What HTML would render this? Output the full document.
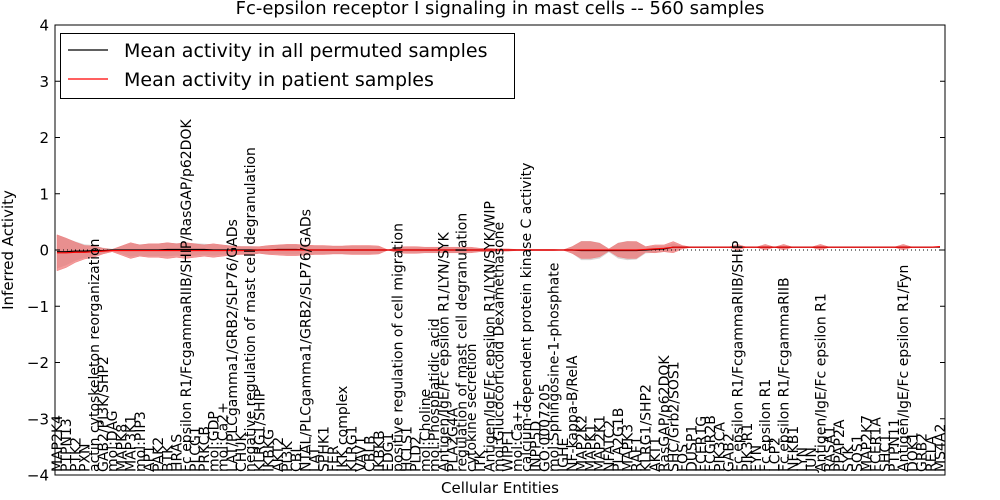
<!DOCTYPE html>
<html><head><meta charset="utf-8"><style>
html,body{margin:0;padding:0;background:#fff;}
svg{display:block;font-family:"DejaVu Sans","Liberation Sans",sans-serif;}
</style></head><body>
<svg id="chart" width="1000" height="500" viewBox="0 0 1000 500">
<rect x="0" y="0" width="1000" height="500" fill="#fff"/>
<text x="500" y="14" text-anchor="middle" font-size="18">Fc-epsilon receptor I signaling in mast cells -- 560 samples</text>
<g id="plot"></g>
<text x="13" y="250" text-anchor="middle" font-size="15" transform="rotate(-90,13,250)">Inferred Activity</text>
<text x="500" y="493" text-anchor="middle" font-size="15">Cellular Entities</text>
</svg>
<script>
const categories = ["MAP2K4","PTPN13","PTK2","PXN","actin cytoskeleton reorganization","GAB2/PI3K/SHP2","mol:DAG","MAPK8","MAP3K1","mol:PIP3","AP1","PAK2","BTK","HRAS","Fc epsilon R1/FcgammaRIIB/SHIP/RasGAP/p62DOK","PLCG1","PRKCB","mol:GDP","mol:Ca2+","LAT/PLCgamma1/GRB2/SLP76/GADs","CHUK","negative regulation of mast cell degranulation","KLRG1/SHIP","IKBKG","AKT2","PI3K","CBL","NTAL/PLCgamma1/GRB2/SLP76/GADs","LAT","SPHK1","FER","IKK complex","KLRG1","VAV1","CBLB","IKBKB","EDG1","positive regulation of cell migration","HCLS1","PLD2","mol:Choline","mol:Phosphatidic acid","Antigen/IgE/Fc epsilon R1/LYN/SYK","PLA2G4A","regulation of mast cell degranulation","cytokine secretion","ITK","Antigen/IgE/Fc epsilon R1/LYN/SYK/WIP","mol:Glucocorticoid Dexamethasone","WIPF1","mol:Ca++","calcium-dependent protein kinase C activity","INPP5D","GO:0007205","mol:Sphingosine-1-phosphate","IGHE","NF-kappa-B/RelA","MAP2K2","MAPK1","MAP2K1","NFATC2","PLA2G1B","MAPK3","RAF1","KLRG1/SHP2","AKT1","RasGAP/p62DOK","SHC/Grb2/SOS1","FOS","DUSP1","FCER1G","FCGR2B","PIK3CA","GAB2","Fc epsilon R1/FcgammaRIIB/SHIP","PIK3R1","FYN","Fc epsilon R1","LCP2","Fc epsilon R1/FcgammaRIIB","NFKB1","LYN","JUN","Antigen/IgE/Fc epsilon R1","RASA1","PPAP2A","SYK","SOS1","MAP2K7","FCER1A","SHC1","PTPN11","Antigen/IgE/Fc epsilon R1/Fyn","DOK1","GRB2","RELA","MS4A2"];
const permMean = [-0.03,-0.03,-0.02,-0.02,-0.01,-0.01,0,0,0,0,0,0,0.01,0.01,0.01,0.01,0.01,0,0,0,0,0,0,0,0.01,0.01,0.01,0,0,0,0,0,0,0,0,0,0,0,0,0,0,0,0,0,0,0,0,0,0,0,0,0,0,0,0,0,0,-0.01,-0.01,-0.01,-0.01,-0.01,-0.01,-0.01,0,0.01,0.02,0.05,0.05,0.05,0.05,0.05,0.05,0.05,0.05,0.05,0.05,0.05,0.05,0.05,0.05,0.05,0.05,0.05,0.05,0.05,0.05,0.05,0.05,0.05,0.05,0.05,0.05,0.05,0.05,0.05,0.05];
const patientMean = [-0.05,-0.05,-0.04,-0.04,-0.03,-0.02,-0.01,-0.01,-0.01,-0.01,-0.01,-0.01,-0.01,-0.01,-0.01,-0.01,-0.01,-0.01,-0.01,-0.01,-0.01,-0.01,0,0,0,0,0,0,0,0,0,0,0,0,0,0,0,0,0,0,0,0,0,0,0,0,0,0,0,0,0,0,0,0,0,0,0,0,0,0,0,0,0,0,0.01,0.02,0.03,0.05,0.05,0.05,0.05,0.05,0.05,0.05,0.05,0.05,0.05,0.05,0.05,0.05,0.05,0.05,0.05,0.05,0.05,0.05,0.05,0.05,0.05,0.05,0.05,0.05,0.05,0.05,0.05,0.05,0.06];
const patientSpread = [0.32,0.26,0.18,0.12,0.1,0.05,0.02,0.08,0.14,0.1,0.12,0.12,0.14,0.12,0.14,0.12,0.1,0.12,0.1,0.08,0.07,0.07,0.06,0.08,0.09,0.1,0.1,0.09,0.08,0.08,0.07,0.07,0.08,0.08,0.08,0.07,0.0,0.05,0.06,0.06,0.05,0.05,0.05,0.05,0.05,0.05,0.03,0.03,0.02,0.02,0.01,0.01,0.01,0.01,0.01,0.0,0.06,0.15,0.15,0.12,0.02,0.12,0.15,0.15,0.05,0.07,0.06,0.1,0.03,0.0,0.0,0.0,0.0,0.0,0.05,0.0,0.0,0.05,0.0,0.05,0.0,0.0,0.0,0.05,0.0,0.0,0.0,0.0,0.0,0.0,0.0,0.0,0.05,0.0,0.0,0.0,0.0];
const permSpread = [0.3,0.24,0.17,0.12,0.1,0.05,0.02,0.07,0.12,0.1,0.11,0.11,0.12,0.11,0.12,0.11,0.1,0.1,0.09,0.08,0.07,0.07,0.06,0.07,0.08,0.09,0.09,0.08,0.08,0.07,0.07,0.07,0.07,0.07,0.07,0.06,0.0,0.05,0.05,0.05,0.05,0.05,0.05,0.05,0.05,0.04,0.03,0.03,0.02,0.02,0.01,0.01,0.01,0.01,0.01,0.0,0.06,0.17,0.17,0.14,0.03,0.14,0.17,0.16,0.06,0.06,0.05,0.07,0.02,0.0,0.0,0.0,0.0,0.0,0.03,0.0,0.0,0.03,0.0,0.03,0.0,0.0,0.0,0.03,0.0,0.0,0.0,0.0,0.0,0.0,0.0,0.0,0.03,0.0,0.0,0.0,0.0];
const yTicks = [4,3,2,1,0,-1,-2,-3,-4];

const NS = "http://www.w3.org/2000/svg";
const L = 55, R = 945, T = 25, B = 475;
const xS = i => 57 + i * (940 - 57) / (categories.length - 1);
const yS = v => T + (4 - v) * (B - T) / 8;
const plot = document.getElementById('plot');
function mk(tag, attrs, parent) {
  const e = document.createElementNS(NS, tag);
  for (const k in attrs) e.setAttribute(k, attrs[k]);
  (parent || plot).appendChild(e);
  return e;
}
function bandPath(mean, spread) {
  let up = mean.map((m, i) => xS(i).toFixed(2) + ',' + yS(m + spread[i]).toFixed(2));
  let dn = mean.map((m, i) => xS(i).toFixed(2) + ',' + yS(m - spread[i]).toFixed(2)).reverse();
  return 'M' + up.join('L') + 'L' + dn.join('L') + 'Z';
}
const permBand = mk('path', {d: bandPath(permMean, permSpread), fill: '#d3d3d3', 'fill-opacity': '0.9'});


const patBand = mk('path', {d: bandPath(patientMean, patientSpread), fill: '#f07070', 'fill-opacity': '0.7', stroke: '#f08080', 'stroke-width': '0.5'});


const zl = mk('line', {x1: L, x2: R, y1: yS(0), y2: yS(0), stroke: '#000', 'stroke-dasharray': '1,3', 'stroke-width': 1});


const pl = mk('polyline', {points: permMean.map((v, i) => xS(i) + ',' + yS(v)).join(' '), fill: 'none', stroke: '#000', 'stroke-width': 1.2});


const rl = mk('polyline', {points: patientMean.map((v, i) => xS(i) + ',' + yS(v)).join(' '), fill: 'none', stroke: '#f00', 'stroke-width': 1.2});


categories.forEach((c, i) => {
  const x = xS(i) + 5, y = 472;
  const t = mk('text', {x: x, y: y, 'font-size': 14, transform: `rotate(-90,${x},${y})`});
  t.textContent = c;
  
  
});
const fr = mk('rect', {x: L, y: T, width: R - L, height: B - T, fill: 'none', stroke: '#000', 'stroke-width': 1});


yTicks.forEach(v => {
  const y = yS(v);
  mk('line', {x1: L, x2: L + 5, y1: y, y2: y, stroke: '#000'});
  mk('line', {x1: R - 5, x2: R, y1: y, y2: y, stroke: '#000'});
  const t = mk('text', {x: L - 6, y: y + 5.5, 'font-size': 15, 'text-anchor': 'end'});
  t.textContent = (v < 0 ? '\u2212' : '') + Math.abs(v);
  
  
});
const lg = mk('g', {});


mk('rect', {x: 60.5, y: 33.5, width: 454, height: 65, fill: '#fff', stroke: '#000'}, lg);
mk('line', {x1: 68, x2: 108, y1: 50, y2: 50, stroke: '#000', 'stroke-width': 1.2}, lg);
mk('line', {x1: 68, x2: 108, y1: 79, y2: 79, stroke: '#f00', 'stroke-width': 1.2}, lg);
const l1 = mk('text', {x: 124, y: 57, 'font-size': 19}, lg);
l1.textContent = 'Mean activity in all permuted samples';


const l2 = mk('text', {x: 124, y: 86, 'font-size': 19}, lg);
l2.textContent = 'Mean activity in patient samples';


</script>
</body></html>
